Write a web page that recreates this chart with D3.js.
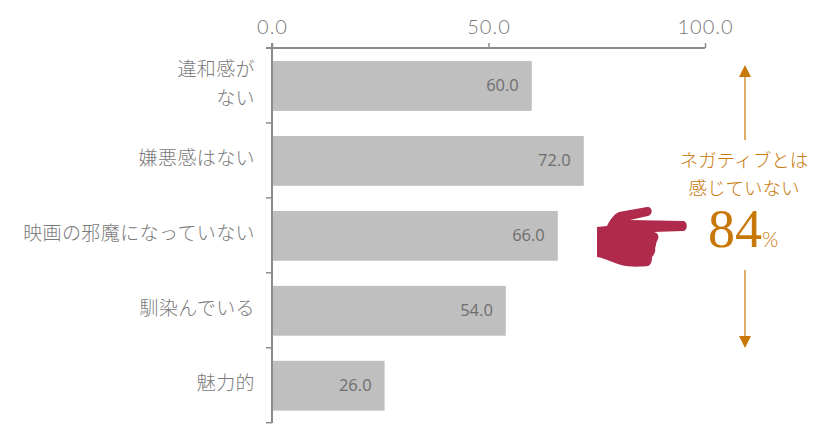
<!DOCTYPE html>
<html>
<head>
<meta charset="utf-8">
<script src="https://cdn.jsdelivr.net/npm/d3@7.9.0/dist/d3.min.js"></script>
<style>
html, body { margin: 0; padding: 0; background: #fff; }
svg { display: block; }
text { font-family: "Noto Sans CJK JP", sans-serif; }
</style>
</head>
<body>
<svg id="chart" width="825" height="448"></svg>
<script>
const categories = ['違和感が|ない', '嫌悪感はない', '映画の邪魔になっていない', '馴染んでいる', '魅力的'];
const values = [60, 72, 66, 54, 26];
const axisTicks = [0, 50, 100];
const noteLines = ['ネガティブとは', '感じていない'];
const noteValue = '84';

const axisColor = '#8c8c8c';
const labelColor = '#7a7a7a';
const noteColor = '#c87808';

const svg = d3.select('#chart');
const x = d3.scaleLinear().domain([0, 100]).range([272, 705]);
const y = d3.scaleBand().domain(categories).range([48, 422.7]).paddingInner(0.335).paddingOuter(0.1675).align(0.52);

// bars
svg.selectAll('rect.bar')
    .data(categories)
    .join('rect')
    .attr('class', 'bar')
    .attr('x', x(0))
    .attr('y', d => y(d))
    .attr('width', (d, i) => x(values[i]) - x(0))
    .attr('height', y.bandwidth())
    .attr('fill', '#bfbfbf');

svg.selectAll('text.value')
    .data(values)
    .join('text')
    .attr('class', 'value')
    .attr('x', d => x(d) - 13)
    .attr('y', (d, i) => y(categories[i]) + y.bandwidth() / 2 + 1)
    .attr('text-anchor', 'end')
    .attr('dominant-baseline', 'middle')
    .attr('font-size', 16.5)
    .attr('fill', '#6e6e6e')
    .style('font-family', '"Open Sans", sans-serif')
    .text(d => d.toFixed(1));

// top axis
const xAxis = d3.axisTop(x).tickValues(axisTicks).tickFormat(d => d.toFixed(1)).tickSize(5).tickPadding(9);
const gx = svg.append('g').attr('transform', 'translate(0,48)').call(xAxis);
gx.select('.domain').remove();
gx.selectAll('line').attr('stroke', axisColor).attr('stroke-width', 1.5);
gx.selectAll('text')
    .attr('fill', labelColor)
    .attr('font-size', 20)
    .attr('letter-spacing', '1px')
    .style('font-family', 'Lato, sans-serif')
    .style('font-weight', 300);
svg.append('line')
    .attr('x1', x(0) - 6).attr('x2', x(100))
    .attr('y1', 48).attr('y2', 48)
    .attr('stroke', axisColor).attr('stroke-width', 2);

// left axis, ticks sit between the bands
const step = y.step();
const bandEdges = [0, 1, 2, 3, 4, 5].map(i => y.range()[0] + i * step);
svg.selectAll('line.ytick')
    .data(bandEdges)
    .join('line')
    .attr('class', 'ytick')
    .attr('x1', x(0) - 6).attr('x2', x(0))
    .attr('y1', d => d).attr('y2', d => d)
    .attr('stroke', axisColor).attr('stroke-width', 1.5);
svg.append('line')
    .attr('x1', x(0)).attr('x2', x(0))
    .attr('y1', 43).attr('y2', 423)
    .attr('stroke', axisColor).attr('stroke-width', 2);

// category labels
categories.forEach(c => {
    const lines = c.split('|');
    const cy = y(c) + y.bandwidth() / 2 - 1;
    lines.forEach((line, i) => {
        svg.append('text')
            .attr('x', 255)
            .attr('y', cy + (i - (lines.length - 1) / 2) * 29)
            .attr('text-anchor', 'end')
            .attr('dominant-baseline', 'middle')
            .attr('font-size', 19)
            .attr('letter-spacing', '0.4px')
            .attr('font-weight', 300)
            .attr('fill', labelColor)
            .text(line);
    });
});

// annotation on the right
const noteX = 744;
svg.selectAll('text.note')
    .data(noteLines)
    .join('text')
    .attr('class', 'note')
    .attr('x', noteX)
    .attr('y', (d, i) => 162 + i * 28)
    .attr('text-anchor', 'middle')
    .attr('dominant-baseline', 'middle')
    .attr('font-size', 18.5)
    .attr('font-weight', 300)
    .attr('fill', noteColor)
    .text(d => d);

const big = svg.append('text')
    .attr('x', 708)
    .attr('y', 247)
    .attr('fill', noteColor)
    .style('font-family', '"Liberation Serif", serif');
big.append('tspan').attr('font-size', 54).text(noteValue);
big.append('tspan').attr('font-size', 21).style('font-family', 'Lato, sans-serif').style('font-weight', 300).text('%');

function arrow(y1, y2) {
    svg.append('line')
        .attr('x1', noteX + 1).attr('x2', noteX + 1)
        .attr('y1', y1).attr('y2', y2)
        .attr('stroke', noteColor).attr('stroke-width', 1.2);
    const dir = y2 > y1 ? 1 : -1;
    svg.append('path')
        .attr('d', `M${noteX + 1},${y2 + dir * 12}L${noteX - 5},${y2}L${noteX + 7},${y2}Z`)
        .attr('fill', noteColor);
}
arrow(140, 77);
arrow(270, 336);

// pointing hand
svg.append('path')
    .attr('fill', '#af2a4b')
    .attr('d', 'M597,227 L607,226 C610,220 613,215 619,212 L647,207 C652,206 654,214 648,216 L630,220 L683,221 C688,221 688,231 683,231 L653,232 C658,232 660,237 657,241 C656,243 656,247 655,248 C656,251 654,255 652,257 C652,261 651,265 648,266 C640,267 628,267 621,265 C613,263 605,258 597,257 Z');
</script>
</body>
</html>
